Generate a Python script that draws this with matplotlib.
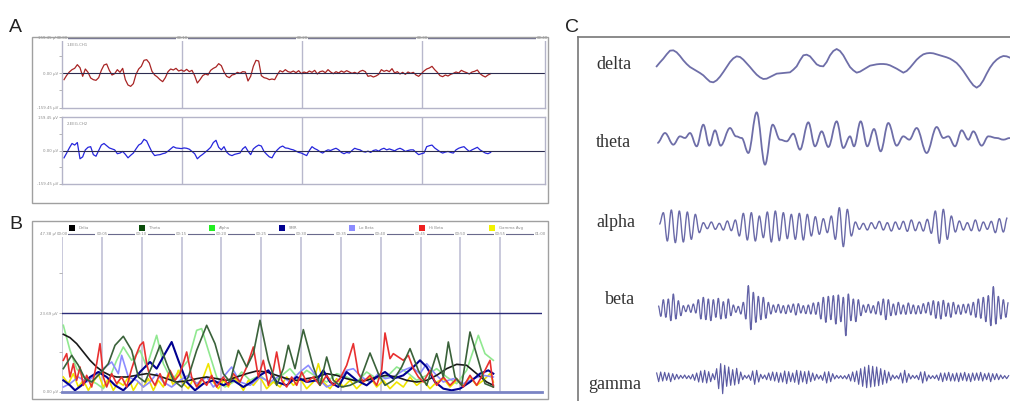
import numpy as np
import matplotlib
matplotlib.use("Agg")
import matplotlib.pyplot as plt
from matplotlib.lines import Line2D
from matplotlib.patches import Rectangle, PathPatch
from matplotlib.path import Path

W, H = 1010, 401

# ---------------- panel A: raw EEG, amplitude every 8 samples from sample 12 ----------------
ch1_v = [-20, -7, 3, 10, 14, 25, 16, -10, 12, 2, -15, -20, -22, -14, 8, 24, 27, 8, -6, -2,
         10, 2, 14, -20, -36, -40, -32, -4, 12, 20, 38, 40, 30, 5, -6, -12, -20, -26, -14, 4,
         12, 9, 14, 6, 9, 5, 11, 4, 8, -8, -30, -20, -8, -3, -6, 8, 14, 18, 28, 22,
         3, -10, -14, -6, -4, 2, -1, 4, 3, -24, -10, 20, 38, 36, -8, -14, -16, -20, -18,
         -20, -5, 7, 3, 10, 4, 2, 6, 1, 7, -2, 3, 0, 6, 2, 8, -3, 4, 6, 1,
         10, 3, -2, 4, 0, 6, 2, 7, 3, -1, 2, -2, 5, 8, 4, -10, -8, -12, -9, -4,
         10, 5, 8, 4, 13, 0, 4, -3, 2, -4, 3, -1, 2, -6, -10, -2, 6, 12, 15, 20,
         10, 2, -8, -11, -6, -9, -4, -1, 3, 0, 8, 4, 1, -3, 3, 5, 9, -2, -8, -12, -6, -2]
ch2_v = [-23, -8, 8, 22, 17, 25, -26, -20, 2, 10, 12, -13, -18, 0, 17, 22, 15, 8, 5, 2,
         -10, -8, -3, -12, -23, -15, -8, 5, 17, 22, 35, 30, 12, -5, -16, -14, -13, -10, -8, -2,
         5, 12, 8, 7, 6, 8, 7, 4, -3, -10, -26, -18, -12, -5, 2, 10, 25, 32, 10, 2,
         12, -5, -13, -16, -12, -10, -8, 5, 12, -2, -13, 5, 12, 17, 14, -3, -12, -20, -23, -8,
         2, 10, 14, 8, 7, 4, 2, -2, -6, -8, -12, -16, 0, 12, 6, 2, -4, -8, -2, 2,
         0, 4, 7, 2, -6, -10, -6, -8, 0, 7, 4, 2, -3, -5, -2, -6, 0, 2, -2, 4,
         7, 2, 5, 2, -1, 4, 7, 3, -3, 0, 2, 2, -6, -13, -10, -8, 12, 15, 17, 8,
         2, -4, -8, -5, -3, -6, -8, 2, 7, 10, 12, 4, -3, 2, 6, 10, 2, -3, -8, -10, -6]
a_ticks = ["00:00", "00:10", "00:20", "00:30", "00:40"]

# ---------------- panel B: band power, (sample, uV) ----------------
band_names = ["Delta", "Theta", "Alpha", "SMR", "Lo Beta", "Hi Beta", "Gamma Avg"]
band_colors = ["#000000", "#0b4d0b", "#22ee22", "#000090", "#8c8cff", "#ee2020", "#f2f200"]
line_colors = ["#1a1a1a", "#3a623a", "#90e890", "#000090", "#8c8cff", "#e83030", "#f0e400"]

delta_p = [(10, 17.3), (30, 16.3), (50, 14.5), (70, 12.0), (90, 9.5), (110, 7.5), (130, 6.0),
           (150, 5.0), (170, 4.5), (200, 4.5), (230, 5.0), (260, 5.5), (290, 5.0), (320, 4.0),
           (350, 3.0), (380, 3.3), (410, 4.0), (440, 4.5), (470, 4.0), (500, 3.5), (530, 4.5),
           (560, 5.5), (590, 6.3), (620, 6.0), (650, 5.0), (680, 4.0), (710, 3.5), (740, 4.0),
           (770, 4.5), (800, 5.5), (830, 5.0), (860, 4.0), (890, 3.3), (920, 3.5), (950, 4.5),
           (980, 5.0), (1010, 4.5), (1040, 3.5), (1070, 3.0), (1100, 3.5), (1130, 5.0),
           (1160, 7.0), (1190, 8.3), (1220, 8.0), (1250, 5.5), (1280, 3.0), (1300, 2.0)]
theta_p = [(10, 7.0), (35, 11.0), (55, 8.0), (75, 4.0), (95, 3.0), (120, 5.5), (145, 8.5),
           (165, 14.0), (190, 16.7), (215, 12.5), (235, 4.5), (255, 3.0), (275, 7.5), (300, 14.0),
           (320, 8.5), (340, 3.5), (365, 1.5), (385, 4.5), (410, 12.5), (440, 20.0), (465, 14.5),
           (490, 5.5), (510, 3.0), (535, 12.5), (560, 7.5), (580, 11.5), (600, 21.5), (625, 9.5),
           (650, 2.0), (670, 7.0), (685, 14.0), (705, 7.0), (730, 18.7), (760, 7.5), (780, 2.0),
           (800, 10.5), (820, 3.5), (845, 1.5), (870, 2.0), (900, 3.5), (930, 11.7), (955, 5.5),
           (975, 2.0), (1000, 3.5), (1025, 7.5), (1050, 13.0), (1075, 6.5), (1100, 2.0),
           (1130, 11.5), (1150, 4.5), (1165, 15.0), (1185, 4.5), (1205, 2.0), (1230, 18.0),
           (1255, 9.5), (1275, 2.5), (1300, 1.5)]
alpha_p = [(10, 20.0), (30, 12.5), (50, 7.0), (70, 4.5), (90, 3.5), (110, 2.5), (130, 1.0),
           (150, 4.5), (170, 9.5), (190, 13.5), (215, 9.5), (240, 12.5), (260, 7.5), (290, 17.0),
           (310, 8.5), (335, 3.5), (360, 6.5), (385, 9.5), (410, 18.5), (425, 19.0), (445, 12.5),
           (470, 4.5), (495, 1.5), (520, 3.0), (545, 6.0), (570, 3.5), (600, 5.0), (630, 2.5),
           (660, 4.5), (690, 7.0), (715, 4.0), (740, 6.5), (770, 4.5), (800, 3.0), (830, 5.5),
           (860, 4.5), (890, 3.0), (920, 6.0), (950, 4.0), (980, 4.5), (1010, 7.5), (1040, 6.0),
           (1070, 3.5), (1100, 5.0), (1130, 7.0), (1160, 4.5), (1190, 2.5), (1220, 6.5),
           (1255, 17.0), (1275, 11.5), (1300, 9.5)]
smr_p = [(10, 3.5), (30, 2.0), (45, 0.5), (65, 2.0), (90, 4.5), (115, 6.0), (140, 4.5),
         (165, 2.0), (190, 0.5), (215, 3.0), (240, 6.0), (270, 9.0), (290, 7.0), (315, 11.5),
         (335, 15.0), (355, 9.5), (380, 3.0), (405, 0.5), (430, 2.5), (460, 3.5), (490, 2.0),
         (520, 3.5), (550, 1.5), (575, 3.0), (600, 5.0), (625, 6.5), (650, 3.0), (680, 2.0),
         (710, 4.5), (740, 3.0), (770, 3.5), (790, 6.5), (810, 3.0), (835, 1.5), (860, 6.0),
         (890, 3.5), (920, 2.0), (950, 4.5), (975, 6.0), (1000, 4.0), (1030, 5.0), (1060, 7.5),
         (1080, 9.5), (1100, 7.5), (1125, 3.0), (1150, 1.0), (1175, 0.5), (1200, 1.0),
         (1230, 3.0), (1260, 5.5), (1285, 6.5), (1300, 5.5)]
lobeta_p = [(10, 1.5), (30, 2.5), (55, 4.5), (80, 3.0), (105, 5.0), (130, 7.0), (155, 9.0),
            (175, 5.5), (185, 11.0), (205, 4.5), (230, 3.5), (250, 1.5), (270, 3.0), (290, 5.5),
            (310, 3.0), (335, 1.5), (360, 3.5), (385, 5.0), (410, 2.5), (440, 4.5), (460, 1.5),
            (490, 4.5), (515, 7.5), (540, 3.0), (570, 2.0), (600, 4.5), (630, 3.0), (660, 5.0),
            (690, 3.0), (720, 6.0), (745, 8.0), (770, 4.5), (800, 1.5), (830, 3.0), (860, 6.5),
            (880, 7.0), (905, 4.5), (930, 3.0), (955, 5.5), (975, 4.0), (1000, 4.5), (1030, 6.5),
            (1055, 7.5), (1080, 5.5), (1100, 8.5), (1125, 5.5), (1150, 3.0), (1180, 4.0),
            (1210, 2.5), (1240, 4.0), (1270, 5.0), (1300, 4.5)]
hibeta_p = [(10, 9.5), (20, 11.5), (30, 4.5), (40, 8.5), (50, 3.5), (60, 7.5), (70, 2.0),
            (80, 5.0), (95, 1.5), (110, 8.5), (120, 14.5), (130, 4.5), (140, 1.5), (155, 5.5),
            (170, 2.5), (185, 4.5), (200, 1.5), (215, 7.0), (230, 11.5), (240, 14.0), (250, 15.0),
            (260, 8.5), (270, 4.5), (285, 2.0), (300, 5.5), (315, 2.0), (330, 6.5), (345, 3.5),
            (360, 5.5), (380, 12.0), (395, 4.5), (410, 1.5), (425, 4.0), (440, 2.0), (455, 5.0),
            (470, 1.5), (490, 4.5), (505, 2.0), (520, 5.5), (540, 3.0), (560, 7.5), (580, 13.5),
            (595, 4.5), (610, 9.5), (625, 2.0), (640, 6.5), (650, 12.0), (665, 3.5), (680, 1.5),
            (695, 4.5), (710, 2.0), (725, 6.0), (740, 3.0), (760, 4.5), (780, 2.0), (800, 5.0),
            (820, 2.0), (840, 4.0), (860, 8.0), (880, 14.5), (895, 5.5), (910, 3.0), (930, 5.0),
            (950, 2.0), (965, 6.5), (975, 17.7), (990, 10.0), (1000, 11.5), (1015, 10.5),
            (1030, 9.5), (1045, 11.0), (1060, 7.0), (1075, 4.5), (1090, 3.0), (1110, 6.5),
            (1130, 2.0), (1150, 4.5), (1170, 2.0), (1190, 4.0), (1210, 1.5), (1230, 5.0),
            (1250, 2.0), (1270, 5.5), (1290, 9.5), (1300, 1.5)]
gamma_p = [(10, 4.5), (25, 2.5), (40, 5.5), (55, 1.5), (70, 3.5), (85, 0.5), (100, 3.0),
           (115, 5.5), (130, 1.5), (145, 4.0), (160, 0.5), (175, 3.0), (190, 2.0), (205, 4.5),
           (220, 0.5), (235, 3.0), (250, 1.5), (265, 4.0), (280, 0.5), (295, 3.5), (310, 1.5),
           (325, 5.5), (340, 2.0), (355, 6.5), (370, 2.5), (385, 1.0), (400, 4.0), (415, 1.5),
           (430, 4.5), (445, 8.5), (460, 3.0), (475, 1.0), (490, 3.5), (505, 1.5), (520, 4.5),
           (535, 3.0), (550, 0.5), (565, 3.5), (580, 2.0), (600, 4.5), (620, 1.0), (640, 3.0),
           (660, 1.5), (680, 4.5), (700, 2.0), (720, 4.0), (740, 1.0), (760, 3.0), (775, 8.5),
           (790, 3.0), (810, 1.0), (830, 4.0), (850, 1.5), (870, 3.5), (890, 1.0), (910, 3.0),
           (930, 4.5), (950, 1.5), (970, 3.5), (990, 1.0), (1010, 3.0), (1030, 1.5), (1050, 4.5),
           (1070, 2.0), (1090, 3.5), (1110, 1.0), (1130, 3.0), (1150, 4.0), (1170, 1.5),
           (1190, 3.5), (1210, 2.0), (1230, 4.5), (1250, 2.0), (1270, 3.5), (1290, 5.5),
           (1300, 3.0)]
bands = [delta_p, theta_p, alpha_p, smr_p, lobeta_p, hibeta_p, gamma_p]
b_ticks = ["00:00", "00:05", "00:10", "00:15", "00:20", "00:25", "00:30",
           "00:35", "00:40", "00:45", "00:50", "00:55", "01:00"]

# ---------------- panel C: example rhythms ----------------
# delta: one value every 10 samples from sample 20
delta_w = [2, 14, 25, 38, 49, 50, 44, 33, 20, 9,
           0, -6, -12, -18, -25, -35, -44, -46, -40, -29,
           -15, 0, 15, 26, 32, 30, 22, 11, 0, -12,
           -23, -31, -36, -35, -30, -25, -20, -19, -18, -17,
           -16, -8, 2, 20, 35, 37, 32, 20, 8, 3,
           2, 15, 35, 48, 54, 48, 35, 17, 0, -10,
           -17, -14, -8, -2, 4, 6, 8, 9, 9, 8,
           5, 0, -5, -11, -17, -12, -2, 10, 22, 31,
           38, 41, 42, 41, 38, 35, 32, 29, 25, 19,
           12, 1, -12, -27, -42, -55, -62, -55, -40, -20,
           -2, 12, 22, 29, 33, 32, 28]
# theta: turning points (sample, amplitude)
theta_w = [(22, -15), (45, 15), (70, -20), (90, 5), (105, 0), (120, 15), (140, -25),
           (160, 40), (178, -23), (195, 23), (212, -23), (240, 30), (258, 5), (275, 0),
           (295, -45), (320, 77), (345, -80), (368, 40), (390, -5), (410, -10), (430, 13),
           (450, -35), (475, 47), (495, -25), (515, 20), (535, -27), (560, 50), (580, -30),
           (600, 5), (612, -25), (632, 50), (652, -25), (672, 27), (692, -40), (715, 45),
           (740, -23), (760, 5), (778, -5), (800, 30), (830, -45), (860, 33), (880, 0),
           (895, 5), (915, -25), (935, 23), (955, -5), (970, 20), (995, -23), (1015, 5),
           (1040, 0), (1060, -5), (1080, 0)]
# alpha / beta / gamma: turning points at a fixed spacing
alpha_w = [5, 40, -45, 48, -50, 45, -48, 42, -40, 35, -20, 10,
           -8, 12, -10, 8, -12, 15, -14, 18,
           -30, 38, -42, 40, -45, 30, -35, 42, -48, 45, -44, 40, -38, 35, -40, 38, -42, 35,
           -30, 28, -25, 22, -20, 30, -40,
           55, -62, 50, -30,
           12, -10, 8, -12, 10, -8, 14, -12, 10, -15, 12, -10, 14, -16, 18, -14, 12, -15, 20, -22,
           45, -52, 50, -40, 30,
           -18, 15, -12, 10, -14, 18, -15, 12, -10, 14, -20, 22, -18, 25]
beta_w = [10, -22, 28, -25, 30, -35, 45, -30, 25, -20,
          10, -8, 12, -10, 15, -12, 28, -30, 35, -32,
          30, -35, 28, -25, 32, -30, 22, -28, 30, -20,
          12, -10, 8, -15, 20, -30, 70, -62, 50, -40,
          38, -32, 35, -28, 20, -15, 12, -10, 14, -12,
          10, -14, 12, -10, 15, -18, 16, -12, 10, -14,
          12, -15, 18, -16, 20, -30, 35, -40, 38, -32,
          40, -45, 42, -38, 35, -80, 45, -35, 30, -38,
          28, -20, 12, -10, 14, -12, 10, -15, 22, -18,
          30, -32, 28, -20, 15, -18, 20, -15, 12, -16,
          18, -14, 12, -15, 10, -14, 16, -12, 20, -18,
          25, -28, 22, -30, 26, -22, 18, -25, 20, -15,
          12, -16, 14, -12, 15, -18, 20, -25, 30, -28,
          35, -38, 40, -50, 67, -45, 38, -30, 28, -25, 20]
gamma_w = [12, -14, 15, -12, 14, -10, 12, -14, 10, -8,
           8, -6, 5, -4, 6, -5, 4, -6, 8, -10,
           12, -15, 18, -16, 20, -18, 16, -14, 10, -8,
           25, -35, 40, -50, 35, -28, 30, -25, 22, -24,
           26, -20, 15, -8, 5, -4, 6, -10, 18, -22,
           20, -15, 8, -5, 6, -8, 12, -10, 15, -12,
           14, -16, 12, -15, 18, -20, 16, -14, 12, -16,
           20, -22, 18, -15, 16, -20, 18, -14, 12, -10,
           8, -6, 5, -10, 15, -18, 16, -14, 10, -6,
           5, -4, 4, -5, 4, -6, 8, -12, 15, -14,
           18, -22, 25, -28, 30, -32, 35, -30, 32, -28,
           30, -26, 25, -22, 20, -18, 15, -10, 6, -5,
           4, -6, 12, -18, 20, -16, 10, -6, 5, -4,
           5, -8, 15, -18, 16, -12, 6, -5, 4, -5,
           6, -10, 12, -14, 12, -10, 14, -12, 10, -12,
           12, -14, 12, -10, 14, -12, 10, -14, 12, -10,
           12, -10, 14, -12, 10, -8, 12, -14, 10, -8,
           10, -8, 6, -5, 4, -5, 4]
rhythm_names = ["delta", "theta", "alpha", "beta", "gamma"]

fig = plt.figure(figsize=(W / 100, H / 100), dpi=100)
fig.patch.set_facecolor("white")


def px_axes(x0, y0, x1, y1):
    return fig.add_axes([x0 / W, 1 - y1 / H, (x1 - x0) / W, (y1 - y0) / H])


def px_line(xs, ys, **kw):
    fig.add_artist(Line2D([x / W for x in xs], [1 - y / H for y in ys],
                          transform=fig.transFigure, **kw))


def px_box(x0, y0, x1, y1, **kw):
    fig.add_artist(Rectangle((x0 / W, 1 - y1 / H), (x1 - x0) / W, (y1 - y0) / H,
                             transform=fig.transFigure, fill=False, **kw))


def wave_patch(t, v, **kw):
    # smooth stroke through turning points: flat tangents at every peak/trough
    verts = [(t[0], v[0])]
    codes = [Path.MOVETO]
    for i in range(1, len(t)):
        d = (t[i] - t[i - 1]) * 0.36
        verts += [(t[i - 1] + d, v[i - 1]), (t[i] - d, v[i]), (t[i], v[i])]
        codes += [Path.CURVE4] * 3
    return PathPatch(Path(verts, codes), fill=False, **kw)


small = dict(fontsize=2.8, color="#8a8a8a")

# ---- A ----
px_box(32, 37, 548, 203, ec="#a0a0a0", lw=1)
for k, (vals, col, y0, y1, name) in enumerate([(ch1_v, "#a82424", 38, 108, "1.EEG.CH1"),
                                                (ch2_v, "#2626dc", 117, 184, "2.EEG.CH2")]):
    ax = px_axes(62, y0, 545, y1)
    t = 12 + 8 * np.arange(len(vals))
    ax.plot(t, vals, color=col, lw=0.9)
    ax.axhline(0, color="#2c2c50", lw=0.8)
    ax.set_xlim(6, 1455)
    ax.set_ylim(-105, 105)
    ax.set_xticks([366, 726, 1086])
    ax.grid(axis="x", color="#b8b8cc", lw=1)
    ax.tick_params(axis="x", length=0, labelbottom=False)
    ax.set_yticks([-105, -52, 0, 52, 105])
    ax.set_yticklabels(["-159.45 µV", "", "0.00 µV", "", "159.45 µV"], **small)
    ax.tick_params(axis="y", length=2, width=0.5, color="#999999", pad=1)
    for s in ax.spines.values():
        s.set_color("#b4b4c8")
        s.set_linewidth(1)
    ax.text(20, 80, name, **small)
    if k == 0:
        ax.spines["top"].set_color("#707090")
        for tt, lab in zip([6, 366, 726, 1086, 1446], a_ticks):
            ax.text(tt, 105, lab, ha="center", va="center", clip_on=False,
                    bbox=dict(fc="white", ec="none", pad=0.6), **small)

# ---- B ----
px_box(32, 221, 548, 399, ec="#a0a0a0", lw=1)
axb = px_axes(62, 234, 542, 392)
order = [2, 6, 4, 0, 3, 5, 1]
for i in order:
    t, v = zip(*bands[i])
    lw = 1.5 if i == 3 else 1.2
    axb.plot(t, v, color=line_colors[i], lw=lw)
grid_t = [6 + 119.5 * k for k in range(13)]
axb.set_xticks(grid_t[:12])
axb.grid(axis="x", color="#c0c0d6", lw=1.2)
axb.tick_params(axis="x", length=0, labelbottom=False)
axb.axhline(23.69, color="#2c2c78", lw=1)
axb.set_xlim(6, 1446)
axb.set_ylim(0, 47.38)
axb.set_yticks([0, 11.85, 23.69, 35.54, 47.38])
axb.set_yticklabels(["0.00 µV", "", "23.69 µV", "", "47.38 µV"], **small)
axb.tick_params(axis="y", length=2, width=0.5, color="#999999", pad=1)
axb.spines["left"].set_visible(False)
axb.spines["right"].set_visible(False)
axb.spines["top"].set_color("#6a6a8c")
axb.spines["bottom"].set_color("#7a84c4")
axb.spines["bottom"].set_linewidth(2)
for tt, lab in zip(grid_t, b_ticks):
    axb.text(tt, 47.38, lab, ha="center", va="center", clip_on=False,
             bbox=dict(fc="white", ec="none", pad=0.6), **small)
for i, (name, col) in enumerate(zip(band_names, band_colors)):
    x = 69 + 70 * i
    fig.add_artist(Rectangle((x / W, 1 - 231 / H), 6 / W, 6 / H,
                             transform=fig.transFigure, fc=col, ec="none"))
    fig.text((x + 10) / W, 1 - 228 / H, name, va="center", **small)

# ---- C ----
px_line([578, 578], [37, 401], color="#777777", lw=1.2)
px_line([578, 1010], [37, 37], color="#777777", lw=1.2)
rhythms = [
    (20 + 10 * np.arange(len(delta_w)), delta_w, 67, 596, 69, 1.3, False, "#6e6ea8"),
    ([p[0] for p in theta_w], [p[1] for p in theta_w], 138, 596, 147, 1.3, True, "#6e6ea8"),
    (28 + 12 * np.arange(len(alpha_w)), alpha_w, 226, 596, 227, 1.0, True, "#6a6aa8"),
    (25 + 7.5 * np.arange(len(beta_w)), beta_w, 309, 605, 304, 0.9, True, "#6262a6"),
    (20 + 6 * np.arange(len(gamma_w)), gamma_w, 377, 588, 389, 0.85, False, "#5a5aa2"),
]
for name, (t, v, c, lx, ly, lw, smooth, col) in zip(rhythm_names, rhythms):
    ax = px_axes(650, c - 30, 1010, c + 30)
    if smooth:
        ax.add_patch(wave_patch(list(t), list(v), ec=col, lw=lw, joinstyle="round"))
    else:
        ax.plot(t, v, color=col, lw=lw, solid_joinstyle="round")
    ax.set_xlim(0, 1080)
    ax.set_ylim(-90, 90)
    ax.axis("off")
    fig.text(lx / W, 1 - ly / H, name, fontsize=13, family="Liberation Serif",
             color="#333333", va="baseline")

for lab, x, y in [("A", 9, 32), ("B", 9, 229), ("C", 565, 32)]:
    fig.text(x / W, 1 - y / H, lab, fontsize=14, family="Liberation Sans",
             color="#222222", va="baseline")

fig.savefig("out.png", dpi=100)
